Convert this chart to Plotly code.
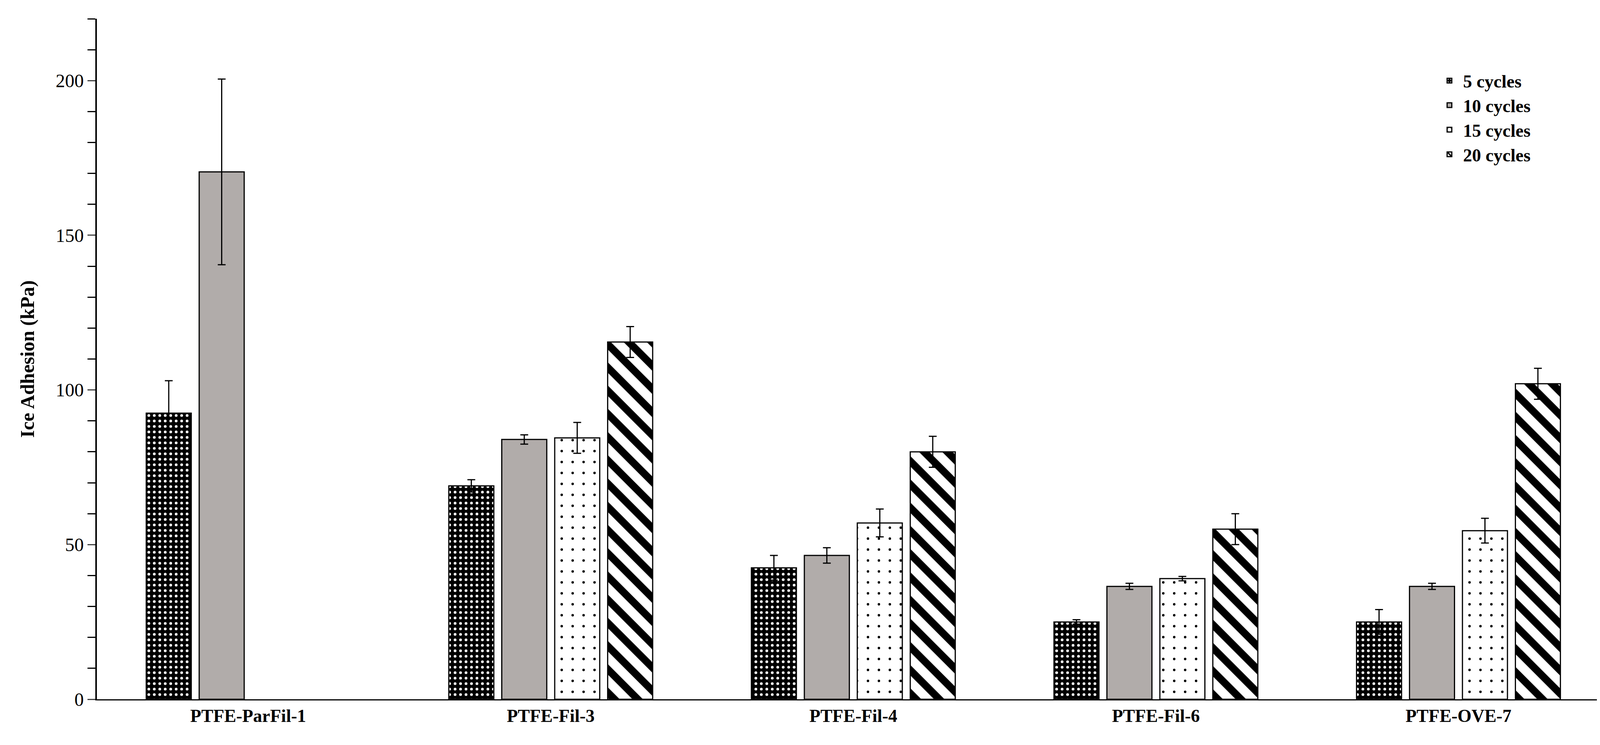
import plotly.graph_objects as go

categories = ["PTFE-ParFil-1", "PTFE-Fil-3", "PTFE-Fil-4", "PTFE-Fil-6", "PTFE-OVE-7"]
series_names = ["5 cycles", "10 cycles", "15 cycles", "20 cycles"]
values = {
    "5 cycles": [92.5, 69, 42.5, 25, 25],
    "10 cycles": [170.5, 84, 46.5, 36.5, 36.5],
    "15 cycles": [None, 84.5, 57, 39, 54.5],
    "20 cycles": [None, 115.5, 80, 55, 102],
}
errors = {
    "5 cycles": [10.5, 2, 4, 0.7, 4],
    "10 cycles": [30, 1.5, 2.5, 1, 1],
    "15 cycles": [0, 5, 4.5, 0.7, 4],
    "20 cycles": [0, 5, 5, 5, 5],
}

styles = {
    "5 cycles": dict(color="black", pattern=dict(shape=".", fgcolor="white", bgcolor="black", fgopacity=1, size=14, solidity=0.2)),
    "10 cycles": dict(color="#b1acaa"),
    "15 cycles": dict(color="white", pattern=dict(shape=".", fgcolor="black", bgcolor="white", fgopacity=1, size=28, solidity=0.04)),
    "20 cycles": dict(color="white", pattern=dict(shape="\\", fgcolor="black", bgcolor="white", fgopacity=1, size=42, solidity=0.45)),
}

font = "Liberation Serif, Times New Roman, serif"
fig = go.Figure()
for s in series_names:
    fig.add_trace(go.Bar(
        name=s, x=categories, y=values[s],
        marker=dict(line=dict(color="black", width=3), **styles[s]),
        error_y=dict(type="data", array=errors[s], color="black", thickness=3, width=10),
    ))

fig.update_layout(
    barmode="group", bargap=0.3, bargroupgap=0.15,
    width=4157, height=1906, plot_bgcolor="white", paper_bgcolor="white",
    margin=dict(l=240, r=44, t=40, b=125),
    font=dict(family=font, size=46, color="black"),
    legend=dict(x=0.885, y=0.93, xanchor="left", yanchor="top", itemwidth=60,
                font=dict(size=46, family=font, weight="bold"), tracegroupgap=12),
    yaxis=dict(range=[0, 220], tickvals=[0, 50, 100, 150, 200], showline=True, linecolor="black",
               linewidth=4, ticks="outside", ticklen=20, tickwidth=3, showgrid=False, zeroline=False,
               tickfont=dict(size=48),
               minor=dict(dtick=10, ticks="outside", ticklen=20, tickwidth=3, tickcolor="black"),
               title=dict(text="<b>Ice Adhesion (kPa)</b>", font=dict(size=50, family=font), standoff=40)),
    xaxis=dict(showline=True, linecolor="black", linewidth=3, ticks="", showgrid=False,
               tickfont=dict(size=46, family=font, weight="bold")),
)
fig.write_html("out.html")
